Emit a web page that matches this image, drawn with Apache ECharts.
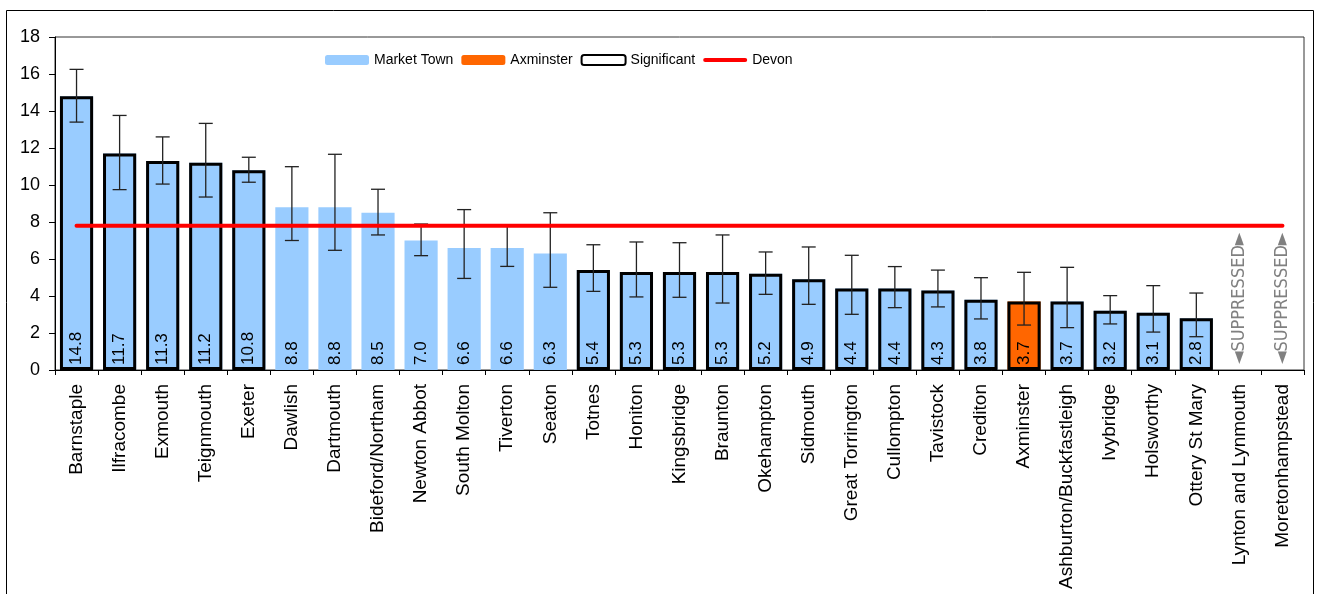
<!DOCTYPE html>
<html>
<head>
<meta charset="utf-8">
<script src="https://cdn.jsdelivr.net/npm/echarts@6/dist/echarts.min.js"></script>
<style>
html,body{margin:0;padding:0;background:#fff;}
#chart{width:1321px;height:594px;}
</style>
</head>
<body>
<div id="chart"></div>
<script>
const categories = ['Barnstaple','Ilfracombe','Exmouth','Teignmouth','Exeter','Dawlish','Dartmouth','Bideford/Northam','Newton Abbot','South Molton','Tiverton','Seaton','Totnes','Honiton','Kingsbridge','Braunton','Okehampton','Sidmouth','Great Torrington','Cullompton','Tavistock','Crediton','Axminster','Ashburton/Buckfastleigh','Ivybridge','Holsworthy','Ottery St Mary','Lynton and Lynmouth','Moretonhampstead'];
const values = [14.8,11.7,11.3,11.2,10.8,8.8,8.8,8.5,7.0,6.6,6.6,6.3,5.4,5.3,5.3,5.3,5.2,4.9,4.4,4.4,4.3,3.8,3.7,3.7,3.2,3.1,2.8,null,null];
const lower = [13.4,9.75,10.05,9.35,10.15,7.0,6.47,7.3,6.18,4.95,5.6,4.47,4.25,3.95,3.93,3.62,4.09,3.55,3.01,3.37,3.41,2.76,2.43,2.29,2.49,2.05,1.8,null,null];
const upper = [16.25,13.76,12.6,13.33,11.5,10.99,11.66,9.77,7.89,8.67,7.85,8.5,6.77,6.92,6.88,7.3,6.38,6.65,6.2,5.59,5.4,4.99,5.28,5.55,4.02,4.56,4.16,null,null];
const significant = [1,1,1,1,1,0,0,0,0,0,0,0,1,1,1,1,1,1,1,1,1,1,1,1,1,1,1,0,0];
const highlight = 'Axminster';
const devonValue = 7.8;
const yTicks = {min:0, max:18, interval:2};
const suppressedText = '\u25C4SUPPRESSED\u25BA';

const FONT = "'Liberation Sans', Arial, sans-serif";
const chart = echarts.init(document.getElementById('chart'), null, {renderer:'canvas'});

const valueLabel = {
  show: true, position: 'insideBottom', rotate: 90, align: 'left', verticalAlign: 'middle',
  distance: 5, color: '#000', fontSize: 17, fontFamily: FONT,
  formatter: p => p.value == null ? '' : Number(p.value).toFixed(1)
};

const marketData = categories.map((c, i) => {
  if (c === highlight) return null;
  if (values[i] == null) {
    return {value: 0, label: {show: true, formatter: suppressedText, color: '#808080', fontSize: 18,
      fontFamily: "'Liberation Sans Narrow', 'Arial Narrow', 'DejaVu Sans Condensed', sans-serif", distance: 6}};
  }
  return values[i];
});
const axData = categories.map((c, i) => c === highlight ? values[i] : null);
const sigData = categories.map((c, i) => significant[i] && values[i] != null ? values[i] : null);
const errData = categories.map((c, i) => [i, lower[i], upper[i]]).filter(d => d[1] != null);
const devonData = categories.map(() => devonValue);

const option = {
  animation: false,
  backgroundColor: '#fff',
  textStyle: {fontFamily: FONT},
  graphic: [{type: 'rect', shape: {x: 6.5, y: 10.5, width: 1307, height: 620}, style: {fill: 'none', stroke: '#000', lineWidth: 1}, silent: true, z: -1}],
  legend: {
    data: ['Market Town', 'Axminster', 'Significant',
      {name: 'Devon', icon: 'path://M0,0 M44,10 M2,3 L42,3 A2,2 0 0 1 42,7 L2,7 A2,2 0 0 1 2,3 Z'}],
    left: 320, top: 48, itemWidth: 44, itemHeight: 10, itemGap: 8,
    textStyle: {fontSize: 14, color: '#000', fontFamily: FONT},
    selectedMode: false
  },
  grid: {left: 55, right: 17, top: 37, bottom: 224, show: true, borderColor: '#333', borderWidth: 1, backgroundColor: 'transparent'},
  xAxis: {
    type: 'category', data: categories, boundaryGap: true,
    axisLine: {lineStyle: {color: '#000', width: 1}},
    axisTick: {show: true, length: 5, lineStyle: {color: '#000'}},
    axisLabel: {rotate: 90, interval: 0, margin: 14, fontSize: 19, color: '#000', fontFamily: FONT}
  },
  yAxis: {
    type: 'value', min: yTicks.min, max: yTicks.max, interval: yTicks.interval,
    splitLine: {show: false},
    axisLine: {show: true, lineStyle: {color: '#000', width: 1}},
    axisTick: {show: true, length: 6, lineStyle: {color: '#000'}},
    axisLabel: {margin: 15, fontSize: 18, color: '#000', fontFamily: FONT}
  },
  series: [
    {name: 'Market Town', type: 'bar', data: marketData, barWidth: '77%', barGap: '-100%',
     itemStyle: {color: '#99CCFF'}, label: valueLabel, z: 2},
    {name: 'Axminster', type: 'bar', data: axData, barWidth: '77%', barGap: '-100%',
     itemStyle: {color: '#FF6600'}, label: valueLabel, z: 2},
    {name: 'Significant', type: 'bar', data: sigData, barWidth: '77%', barGap: '-100%',
     itemStyle: {color: 'rgba(255,255,255,0)', borderColor: '#000', borderWidth: 3}, z: 3},
    {name: 'Error', type: 'custom', data: errData, encode: {x: 0, y: [1, 2]}, z: 4,
     renderItem: function (params, api) {
       const x = api.value(0);
       const lo = api.coord([x, api.value(1)]);
       const hi = api.coord([x, api.value(2)]);
       const hw = 7;
       const st = {stroke: '#222', lineWidth: 1.3};
       return {type: 'group', children: [
         {type: 'line', shape: {x1: lo[0], y1: lo[1], x2: hi[0], y2: hi[1]}, style: st},
         {type: 'line', shape: {x1: lo[0] - hw, y1: lo[1], x2: lo[0] + hw, y2: lo[1]}, style: st},
         {type: 'line', shape: {x1: hi[0] - hw, y1: hi[1], x2: hi[0] + hw, y2: hi[1]}, style: st}
       ]};
     }},
    {name: 'Devon', type: 'line', data: devonData, symbol: 'none', z: 5,
     lineStyle: {color: '#FF0000', width: 4, cap: 'round'}, itemStyle: {color: '#FF0000'}}
  ]
};
chart.setOption(option);
</script>
</body>
</html>
